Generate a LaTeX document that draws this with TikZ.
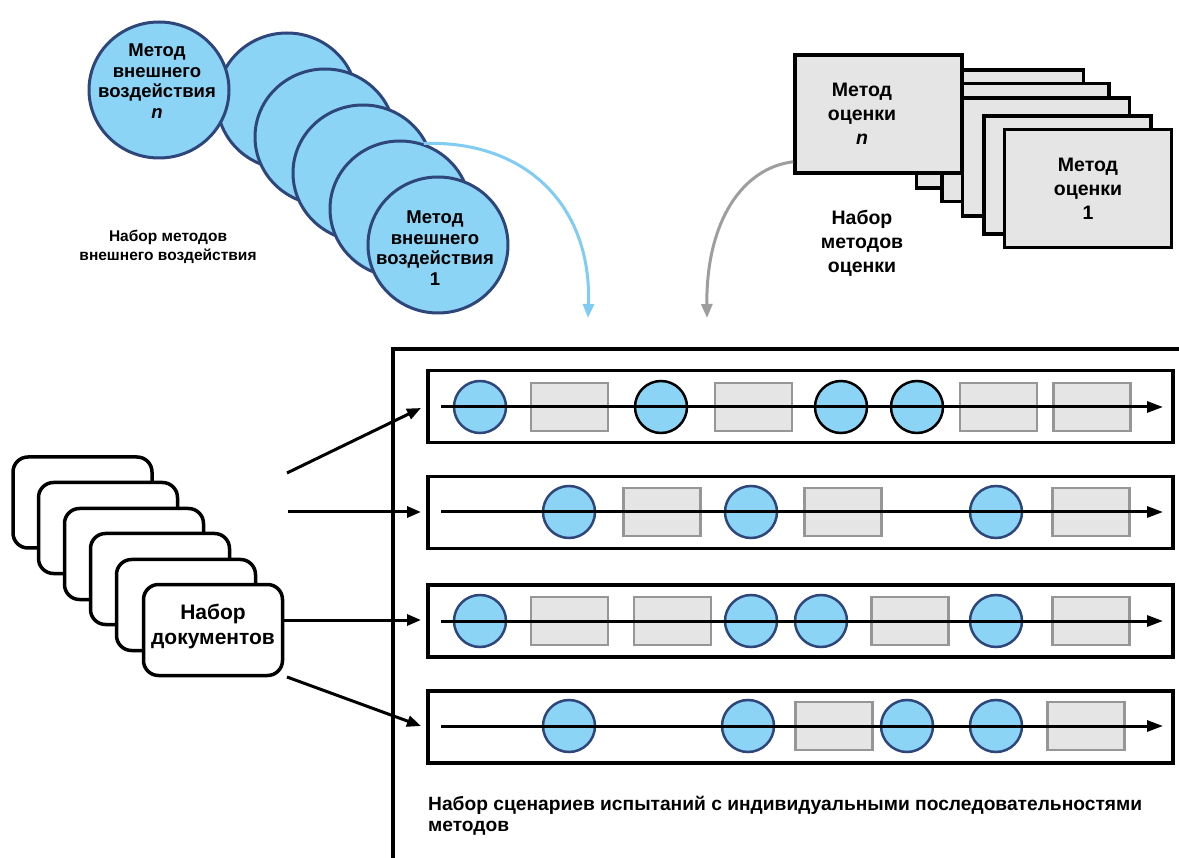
\documentclass[tikz,border=0pt]{standalone}
\usepackage{fontspec}
\setmainfont{Liberation Sans}
\usetikzlibrary{arrows.meta,shapes.geometric}
\definecolor{cblue}{RGB}{140,212,246}
\definecolor{cdark}{RGB}{46,70,122}
\definecolor{cgfill}{RGB}{229,229,229}
\definecolor{cgline}{RGB}{150,150,150}
\definecolor{carrblue}{RGB}{128,204,242}
\definecolor{carrgray}{RGB}{158,158,158}
\tikzset{
  bigcirc/.style={ellipse, draw=cdark, fill=cblue, line width=3pt, minimum width=140pt, minimum height=136pt, inner sep=0pt},
  evalbox/.style={rectangle, draw=black, fill=cgfill, line width=3.5pt, minimum width=167pt, minimum height=118pt, inner sep=0pt},
  docbox/.style={rectangle, rounded corners=15pt, draw=black, fill=white, line width=3.5pt, minimum width=139pt, minimum height=91pt, inner sep=0pt},
  rowbox/.style={rectangle, draw=black, line width=3.5pt, minimum width=745pt, minimum height=72pt, inner sep=0pt},
  seqc/.style={circle, draw=cdark, fill=cblue, line width=2.5pt, minimum size=52pt, inner sep=0pt},
  seqcb/.style={seqc, draw=black},
  seqr/.style={rectangle, draw=cgline, fill=cgfill, line width=2.5pt, minimum width=77pt, minimum height=48pt, inner sep=0pt},
  txt/.style={align=center, font=\bfseries\fontsize{18.5}{20.5}\selectfont, inner sep=0pt},
  txtb/.style={align=center, font=\bfseries\fontsize{19.5}{24}\selectfont, inner sep=0pt},
  flow/.style={line width=3pt, -{Triangle[length=14pt,width=11pt]}},
  seqarrow/.style={line width=3pt, -{Triangle[length=16pt,width=11pt]}},
  curvearrow/.style={line width=3pt, -{Triangle[length=14pt,width=11pt]}},
}
\begin{document}
\begin{tikzpicture}[x=1pt,y=-1pt]
\useasboundingbox[fill=white] (0,0) rectangle (1179,858);

% ---------- external-impact circles ----------
\node[bigcirc] (c2) at (287,101) {};
\node[bigcirc] (c3) at (325,137) {};
\node[bigcirc] (c4) at (363,173) {};
\node[bigcirc] (c5) at (400,209) {};
\node[bigcirc] (c1) at (438,245) {};
\node[bigcirc] (cn) at (159,90) {};
\node[txt] (cntxt) at (157,81) {Метод\\внешнего\\воздействия\\\textit{n}};
\node[txt] (c1txt) at (435,248) {Метод\\внешнего\\воздействия\\1};
\node[align=center, font=\bfseries\fontsize{15.5}{18.5}\selectfont, inner sep=0pt] (clabel) at (168,247) {Набор методов\\внешнего воздействия};

\coordinate (bluetip) at (588,318);
\draw[curvearrow, draw=carrblue, color=carrblue] (c5.70) .. controls (525,140) and (592,205) .. (bluetip);

% ---------- evaluation rectangles ----------
\node[evalbox] (r2) at (1000,129) {};
\node[evalbox] (r3) at (1025.5,142.5) {};
\node[evalbox] (r4) at (1046,157) {};
\node[evalbox] (r5) at (1067.5,175) {};
\node[evalbox] (r1) at (1088,188.5) {};
\node[evalbox] (rn) at (878.5,114) {};
\node[txtb] (rntxt) at (862,114) {Метод\\оценки\\\textit{n}};
\node[txtb] (r1txt) at (1088,189) {Метод\\оценки\\1};
\node[txtb] (rlabel) at (862,243) {Набор\\методов\\оценки};

\coordinate (graytip) at (707,318);
\draw[curvearrow, draw=carrgray, color=carrgray] ([yshift=13pt]rn.south west) .. controls (742,168) and (706,222) .. (graytip);

% ---------- frame ----------
\draw[line width=4pt] (393,858) -- (393,349) -- (1179,349);

% ---------- rows ----------
\node[rowbox] (row1) at (800.5,406.5) {};
\node[rowbox] (row2) at (800.5,512.5) {};
\node[rowbox] (row3) at (800.5,621) {};
\node[rowbox] (row4) at (800.5,727) {};

% row 1
\node[seqc]  (a1) at (480,407) {};
\node[seqr]  (a2) at (569.5,407) {};
\node[seqcb] (a3) at (661,407) {};
\node[seqr]  (a4) at (753.5,407) {};
\node[seqcb] (a5) at (841,407) {};
\node[seqcb] (a6) at (917,407) {};
\node[seqr]  (a7) at (998.5,407) {};
\node[seqr]  (a8) at (1092,407) {};
% row 2
\node[seqc]  (b1) at (569,512) {};
\node[seqr]  (b2) at (662,512) {};
\node[seqc]  (b3) at (751,512) {};
\node[seqr]  (b4) at (843,512) {};
\node[seqc]  (b5) at (996,512) {};
\node[seqr]  (b6) at (1091,512) {};
% row 3
\node[seqc]  (e1) at (480,621) {};
\node[seqr]  (e2) at (569.5,621) {};
\node[seqr]  (e3) at (672.5,621) {};
\node[seqc]  (e4) at (751,621) {};
\node[seqc]  (e5) at (821,621) {};
\node[seqr]  (e6) at (910,621) {};
\node[seqc]  (e7) at (996,621) {};
\node[seqr]  (e8) at (1091,621) {};
% row 4
\node[seqc]  (f1) at (569,726) {};
\node[seqc]  (f2) at (748,726) {};
\node[seqr]  (f3) at (834,726) {};
\node[seqc]  (f4) at (907,726) {};
\node[seqc]  (f5) at (996,726) {};
\node[seqr]  (f6) at (1086,726) {};

\coordinate (s1) at (441,407);  \coordinate (t1) at (1163,407);
\coordinate (s2) at (441,512);  \coordinate (t2) at (1163,512);
\coordinate (s3) at (441,621);  \coordinate (t3) at (1163,621);
\coordinate (s4) at (441,726);  \coordinate (t4) at (1163,726);
\draw[seqarrow] (s1) -- (t1);
\draw[seqarrow] (s2) -- (t2);
\draw[seqarrow] (s3) -- (t3);
\draw[seqarrow] (s4) -- (t4);

\node[align=left, anchor=north west, font=\bfseries\fontsize{19.2}{21}\selectfont, inner sep=0pt] (scen) at (428,796) {Набор сценариев испытаний с индивидуальными последовательностями\\методов};

% ---------- documents ----------
\node[docbox] (d6) at (82.5,502.5) {};
\node[docbox] (d5) at (108,528) {};
\node[docbox] (d4) at (134,554) {};
\node[docbox] (d3) at (160,579) {};
\node[docbox] (d2) at (186,605) {};
\node[docbox] (d1) at (213,630) {};
\node[align=center, font=\bfseries\fontsize{21}{25}\selectfont, inner sep=0pt] (dtxt) at (213,626) {Набор\\документов};

\coordinate (p1) at (287,473);
\coordinate (p2) at (288,512);
\coordinate (p3) at (283,620);
\coordinate (p4) at (287,677);
\coordinate (q1) at (421,408);
\coordinate (q2) at (421,512);
\coordinate (q3) at (421,620);
\coordinate (q4) at (421,726);
\draw[flow] (p1) -- (q1);
\draw[flow] (p2) -- (q2);
\draw[flow] (p3) -- (q3);
\draw[flow] (p4) -- (q4);
\end{tikzpicture}
\end{document}
